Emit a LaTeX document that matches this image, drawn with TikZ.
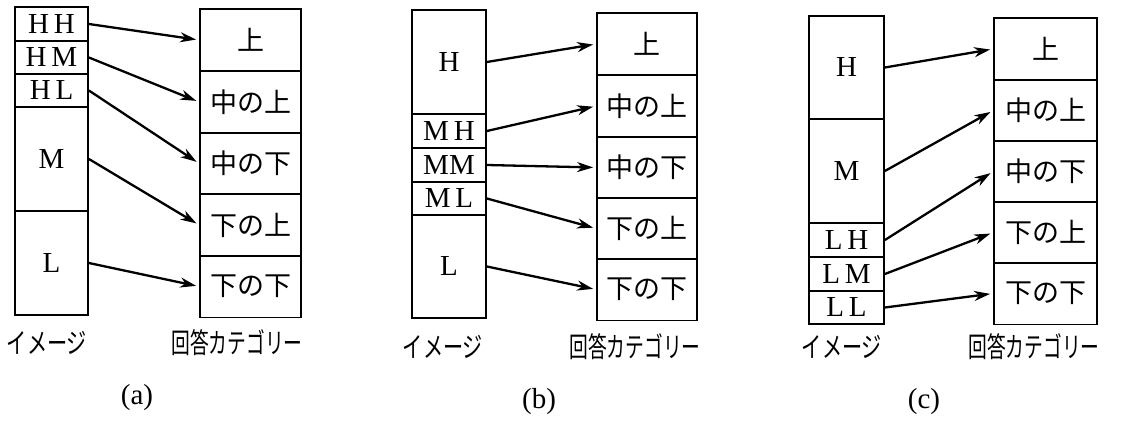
\documentclass[tikz,border=0pt]{standalone}
\usepackage{fontspec}
\usepackage{graphicx}
\usetikzlibrary{arrows.meta}
\setmainfont{Liberation Serif}
\newfontfamily\jpfont{Noto Sans CJK JP}

\tikzset{
  cell/.style={draw, line width=1.8pt, inner sep=0pt, minimum height=#1},
  img/.style={cell=#1, minimum width=\iw, font=\fontsize{29}{31}\selectfont},
  cat/.style={cell=62pt, minimum width=\cw, font=\jpfont\fontsize{27}{29}\selectfont},
  map/.style={line width=2.3pt, -{Stealth[length=16pt,width=10pt,inset=5pt]}, shorten >=3pt},
  axislabel/.style={inner sep=0pt, font=\jpfont\fontsize{28}{30}\selectfont},
  caption/.style={inner sep=0pt, font=\fontsize{29}{31}\selectfont},
}
\newcommand{\imglabel}{\scalebox{0.72}[1]{イメージ}}
\newcommand{\catlabel}{\scalebox{0.67}[1]{回答カテゴリー}}

\begin{document}
\begin{tikzpicture}[x=1pt, y=-1pt]
\useasboundingbox (0,0) rectangle (1121,422);

% ---------- (a) ----------
\begin{scope}
  \def\iw{73pt}\def\cw{101pt}
  \node[img=34pt]  (a-hh) at (51.5,24)   {H\,H};
  \node[img=33pt]  (a-hm) at (51.5,57.5) {H\,M};
  \node[img=33pt]  (a-hl) at (51.5,90.5) {H\,L};
  \node[img=104pt] (a-m)  at (51.5,159)  {M};
  \node[img=104pt] (a-l)  at (51.5,263)  {L};
  \node[cat] (a-c1) at (250.5,40)    {上};
  \node[cat] (a-c2) at (250.5,102)   {中の上};
  \node[cat] (a-c3) at (250.5,163.5) {中の下};
  \node[cat] (a-c4) at (250.5,225)   {下の上};
  \node[cat] (a-c5) at (250.5,286.5) {下の下};
  \draw[map] (a-hh.east) -- (a-c1.west);
  \draw[map] (a-hm.east) -- (a-c2.west);
  \draw[map] (a-hl.east) -- (a-c3.west);
  \draw[map] (a-m.east)  -- (a-c4.west);
  \draw[map] (a-l.east)  -- (a-c5.west);
  \node[axislabel] (a-img) at (47,343)  {\imglabel};
  \node[axislabel] (a-cat) at (237,343) {\catlabel};
  \node[caption]   (a-cap) at (137,398) {(a)};
\end{scope}

% ---------- (b) ----------
\begin{scope}
  \def\iw{74pt}\def\cw{100pt}
  \node[img=104pt] (b-h)  at (449,62)    {H};
  \node[img=34pt]  (b-mh) at (449,131)   {M\,H};
  \node[img=34pt]  (b-mm) at (449,165)   {MM};
  \node[img=33pt]  (b-ml) at (449,198.5) {M\,L};
  \node[img=103pt] (b-l)  at (449,266.5) {L};
  \node[cat] (b-c1) at (647,44)    {上};
  \node[cat] (b-c2) at (647,106)   {中の上};
  \node[cat] (b-c3) at (647,167.5) {中の下};
  \node[cat] (b-c4) at (647,228.5) {下の上};
  \node[cat] (b-c5) at (647,289.5) {下の下};
  \draw[map] (b-h.east)  -- (b-c1.west);
  \draw[map] (b-mh.east) -- (b-c2.west);
  \draw[map] (b-mm.east) -- (b-c3.west);
  \draw[map] (b-ml.east) -- (b-c4.west);
  \draw[map] (b-l.east)  -- (b-c5.west);
  \node[axislabel] (b-img) at (443,347) {\imglabel};
  \node[axislabel] (b-cat) at (635,347) {\catlabel};
  \node[caption]   (b-cap) at (539,402) {(b)};
\end{scope}

% ---------- (c) ----------
\begin{scope}
  \def\iw{75pt}\def\cw{103pt}
  \node[img=103pt] (c-h)  at (846.5,67.5)  {H};
  \node[img=104pt] (c-m)  at (846.5,171)   {M};
  \node[img=34pt]  (c-lh) at (846.5,240)   {L\,H};
  \node[img=34pt]  (c-lm) at (846.5,274)   {L\,M};
  \node[img=33pt]  (c-ll) at (846.5,307.5) {L\,L};
  \node[cat] (c-c1) at (1045.5,49)    {上};
  \node[cat] (c-c2) at (1045.5,110.5) {中の上};
  \node[cat] (c-c3) at (1045.5,171.5) {中の下};
  \node[cat] (c-c4) at (1045.5,232.5) {下の上};
  \node[cat] (c-c5) at (1045.5,293.5) {下の下};
  \draw[map] (c-h.east)  -- (c-c1.west);
  \draw[map] (c-m.east)  -- (c-c2.west);
  \draw[map] (c-lh.east) -- (c-c3.west);
  \draw[map] (c-lm.east) -- (c-c4.west);
  \draw[map] (c-ll.east) -- (c-c5.west);
  \node[axislabel] (c-img) at (842,347)  {\imglabel};
  \node[axislabel] (c-cat) at (1034,347) {\catlabel};
  \node[caption]   (c-cap) at (924,402)  {(c)};
\end{scope}
\end{tikzpicture}
\end{document}
